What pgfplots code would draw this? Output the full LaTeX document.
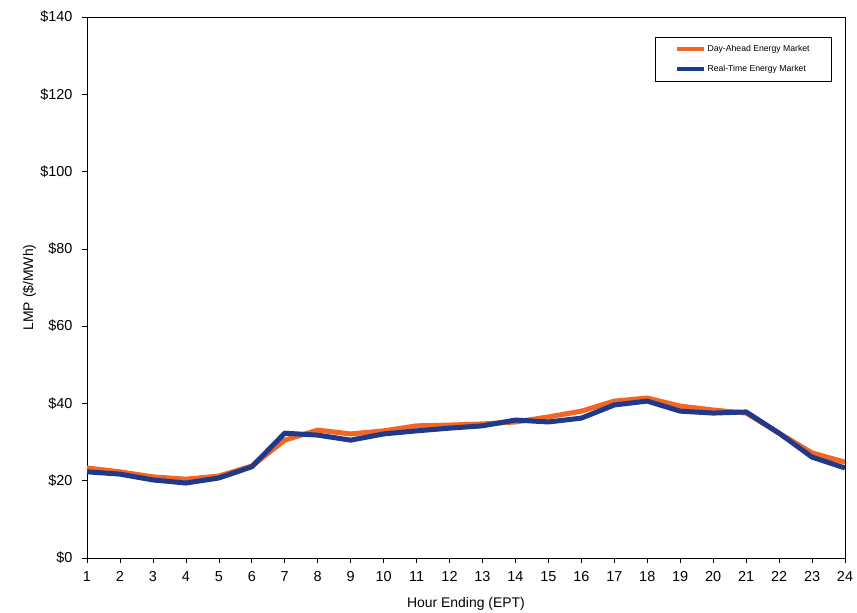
\documentclass[border=0pt]{standalone}
\usepackage{fontspec}
\setmainfont{Liberation Sans}
\usepackage{pgfplots}
\pgfplotsset{compat=1.18}
\definecolor{daorange}{HTML}{F26522}
\definecolor{rtblue}{HTML}{1F3A8A}
\begin{document}
\begin{tikzpicture}
\begin{axis}[
  name=ax,
  scale only axis,
  width=758bp, height=541bp,
  xmin=1, xmax=24, ymin=0, ymax=140,
  xtick={1,...,24},
  ytick={0,20,...,140},
  yticklabel={\$\pgfmathprintnumber{\tick}},
  /pgf/number format/assume math mode=true,
  tick pos=left,
  tick align=outside,
  major tick length=5bp,
  tick style={black, line width=0.6bp},
  axis line style={black, line width=0.8bp},
  ticklabel style={font=\fontsize{14.5}{17}\selectfont},
  label style={font=\fontsize{14}{17}\selectfont},
  xlabel={Hour Ending (EPT)},
  ylabel={LMP (\$/MWh)},
  xlabel style={at={(axis description cs:0.5,-0.085)}, anchor=center},
  ylabel style={at={(axis description cs:-0.076,0.5)}, anchor=center},
  xticklabel style={yshift=-5bp},
  yticklabel style={xshift=-6bp},
  legend cell align=left,
  legend style={at={(0.749,0.963)}, anchor=north west, draw=black, line width=0.6bp,
    font=\fontsize{8.7}{10}\selectfont, inner xsep=20bp, inner ysep=6bp,
    row sep=8bp},
  legend image code/.code={\draw[#1, line width=3.5bp] (0bp,0bp) -- (27bp,0bp);},
]
\addplot[daorange, line width=5bp, line join=round] coordinates {
(1,23.3)(2,22.3)(3,21.0)(4,20.4)(5,21.2)(6,23.8)(7,30.5)(8,33.1)(9,32.1)(10,32.9)(11,34.2)(12,34.4)(13,34.7)(14,35.2)(15,36.5)(16,38.0)(17,40.6)(18,41.4)(19,39.3)(20,38.3)(21,37.5)(22,32.3)(23,27.2)(24,24.8)};
\addlegendentry{Day-Ahead Energy Market}
\addplot[rtblue, line width=5bp, line join=round] coordinates {
(1,22.3)(2,21.7)(3,20.2)(4,19.4)(5,20.7)(6,23.6)(7,32.3)(8,31.8)(9,30.5)(10,32.1)(11,32.9)(12,33.6)(13,34.2)(14,35.7)(15,35.2)(16,36.2)(17,39.6)(18,40.6)(19,38.0)(20,37.5)(21,37.8)(22,32.3)(23,26.1)(24,23.3)};
\addlegendentry{Real-Time Energy Market}
\end{axis}
\pgfresetboundingbox
\path ([shift={(-87bp,-55bp)}]ax.south west) rectangle ([shift={(12bp,17bp)}]ax.north east);
\end{tikzpicture}
\end{document}
